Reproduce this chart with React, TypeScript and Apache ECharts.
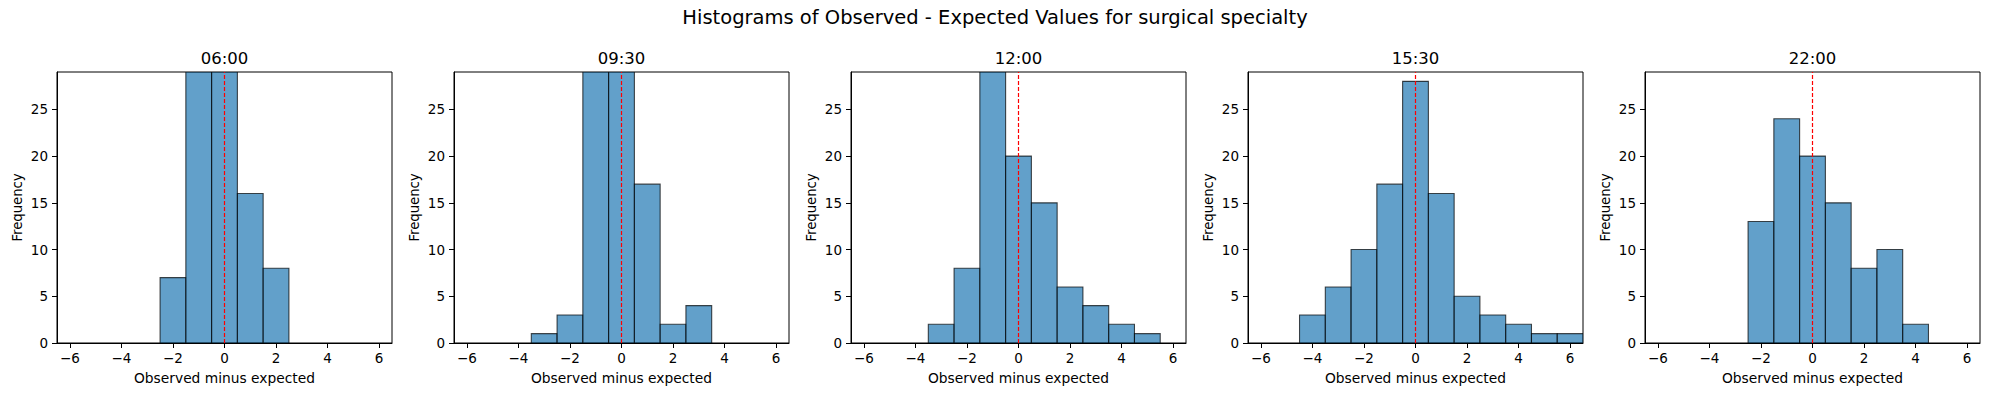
import React, { useEffect, useRef } from "react";
import * as echarts from "echarts";

const suptitle = "Histograms of Observed - Expected Values for surgical specialty";
const panelTitles = ["06:00", "09:30", "12:00", "15:30", "22:00"];
const binCenters1 = [-2, -1, 0, 1, 2];
const counts1 = [7, 30, 31, 16, 8];
const binCenters2 = [-3, -2, -1, 0, 1, 2, 3];
const counts2 = [1, 3, 32, 33, 17, 2, 4];
const binCenters3 = [-3, -2, -1, 0, 1, 2, 3, 4, 5];
const counts3 = [2, 8, 34, 20, 15, 6, 4, 2, 1];
const binCenters4 = [-4, -3, -2, -1, 0, 1, 2, 3, 4, 5, 6];
const counts4 = [3, 6, 10, 17, 28, 16, 5, 3, 2, 1, 1];
const binCenters5 = [-2, -1, 0, 1, 2, 3, 4];
const counts5 = [13, 24, 20, 15, 8, 10, 2];
const xTicks = [-6, -4, -2, 0, 2, 4, 6];
const yTicks = [0, 5, 10, 15, 20, 25];
const xMin = -6.5;
const xMax = 6.5;
const yMax = 29;
const binWidth = 1;
const xLabel = "Observed minus expected";
const yLabel = "Frequency";

const centersList = [binCenters1, binCenters2, binCenters3, binCenters4, binCenters5];
const countsList = [counts1, counts2, counts3, counts4, counts5];

const FONT = "DejaVu Sans";

export default function App() {
  const ref = useRef<HTMLDivElement>(null);
  useEffect(() => {
    if (!ref.current) return;
    const chart = echarts.init(ref.current, null, { renderer: "svg" });
    const gridLeft0 = 57;
    const step = 397;
    const gridW = 335;
    const gridTop = 72;
    const gridH = 271;
    const grids: any[] = [];
    const xAxes: any[] = [];
    const yAxes: any[] = [];
    const series: any[] = [];
    const titles: any[] = [
      {
        text: suptitle,
        left: 995,
        top: 7,
        padding: 0,
        textAlign: "center",
        textStyle: { fontFamily: FONT, fontSize: 19.5, fontWeight: "normal", color: "#000" },
      },
    ];
    for (let i = 0; i < 5; i++) {
      const left = gridLeft0 + i * step;
      grids.push({
        left,
        top: gridTop,
        width: gridW,
        height: gridH,
        show: true,
        borderColor: "#000",
        borderWidth: 1,
        backgroundColor: "transparent",
      });
      titles.push({
        text: panelTitles[i],
        left: left + gridW / 2,
        top: 50,
        padding: 0,
        textAlign: "center",
        textStyle: { fontFamily: FONT, fontSize: 16.5, fontWeight: "normal", color: "#000" },
      });
      xAxes.push({
        type: "value",
        gridIndex: i,
        min: xMin,
        max: xMax,
        splitLine: { show: false },
        axisLine: { show: true, onZero: false, lineStyle: { color: "#000", width: 1 } },
        axisTick: { show: true, length: 5, inside: false, customValues: xTicks, lineStyle: { color: "#000" } },
        axisLabel: {
          customValues: xTicks,
          margin: 8,
          fontFamily: FONT,
          fontSize: 13.5,
          color: "#000",
          formatter: (v: number) => (v < 0 ? "\u2212" + Math.abs(v) : String(v)),
        },
        name: xLabel,
        nameLocation: "middle",
        nameGap: 28,
        nameTextStyle: { fontFamily: FONT, fontSize: 13.8, color: "#000" },
      });
      yAxes.push({
        type: "value",
        gridIndex: i,
        min: 0,
        max: yMax,
        splitLine: { show: false },
        axisLine: { show: true, onZero: false, lineStyle: { color: "#000", width: 1 } },
        axisTick: { show: true, length: 5, inside: false, customValues: yTicks, lineStyle: { color: "#000" } },
        axisLabel: {
          customValues: yTicks,
          margin: 9,
          fontFamily: FONT,
          fontSize: 13.5,
          color: "#000",
        },
        name: yLabel,
        nameLocation: "middle",
        nameGap: 33,
        nameTextStyle: { fontFamily: FONT, fontSize: 13.2, color: "#000" },
      });
      const data = centersList[i].map((c, j) => [c, countsList[i][j]]);
      series.push({
        type: "custom",
        xAxisIndex: i,
        yAxisIndex: i,
        clip: true,
        data,
        renderItem: (params: any, api: any) => {
          const x = api.value(0);
          const y = Math.min(api.value(1), yMax);
          const p0 = api.coord([x - binWidth / 2, 0]);
          const p1 = api.coord([x + binWidth / 2, y]);
          return {
            type: "rect",
            shape: { x: p0[0], y: p1[1], width: p1[0] - p0[0], height: p0[1] - p1[1] },
            style: { fill: "rgba(31,119,180,0.7)", stroke: "rgba(0,0,0,0.7)", lineWidth: 1.1 },
          };
        },
        markLine: {
          silent: true,
          symbol: ["none", "none"],
          label: { show: false },
          lineStyle: { color: "#ff0000", type: [4, 2], width: 1.2 },
          data: [{ xAxis: 0 }],
        },
      });
    }
    chart.setOption({
      animation: false,
      backgroundColor: "#fff",
      title: titles,
      grid: grids,
      xAxis: xAxes,
      yAxis: yAxes,
      series,
    });
    return () => chart.dispose();
  }, []);
  return (
    <div
      ref={ref}
      style={{ position: "absolute", left: 0, top: 0, width: 1989, height: 396 }}
    />
  );
}
